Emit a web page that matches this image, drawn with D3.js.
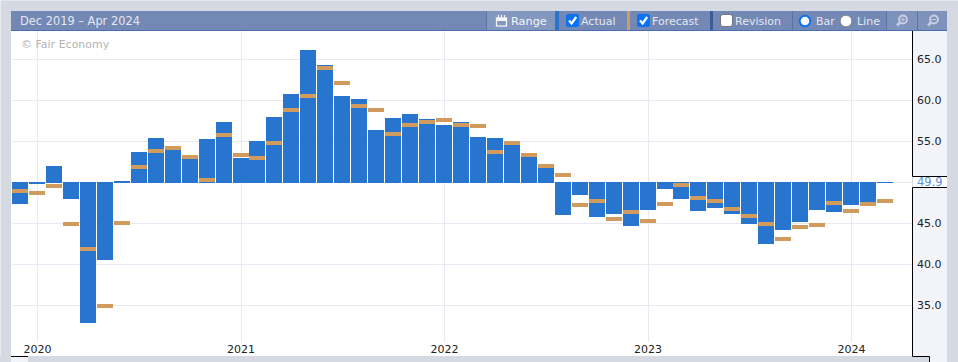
<!DOCTYPE html>
<html>
<head>
<meta charset="utf-8">
<script src="https://cdn.jsdelivr.net/npm/d3@7/dist/d3.min.js"></script>
<style>
html,body{margin:0;padding:0;background:#d5d9e2;overflow:hidden}
svg{display:block}
text{font-family:"DejaVu Sans",Verdana,sans-serif;font-size:11px}
</style>
</head>
<body>
<svg id="c" width="958" height="362"></svg>
<script>
const months = d3.timeMonth.range(new Date(2019, 11, 1), new Date(2024, 4, 1)).map(d3.timeFormat("%Y-%m"));
const actual = [47.35,49.8,52.0,48.0,32.85,40.5,50.15,53.7,55.4,54.0,53.0,55.3,57.4,53.0,55.0,58.0,60.8,66.1,64.3,60.5,60.15,56.4,57.85,58.3,57.7,57.0,57.35,55.5,55.4,54.55,53.1,51.75,46.0,48.45,45.8,46.15,44.7,46.6,49.2,48.0,46.5,46.85,46.15,44.9,42.5,44.2,45.15,46.6,46.4,47.25,47.2,49.9];
const forecast = [48.9,48.7,49.55,44.9,41.9,34.9,45.05,51.9,53.8,54.2,53.1,50.3,55.8,53.35,53.0,54.8,58.8,60.5,63.95,62.1,59.3,58.8,55.9,57.0,57.35,57.6,57.0,56.85,53.7,54.8,53.35,52.0,50.9,47.2,47.7,45.55,46.4,45.3,47.35,49.65,48.1,47.7,46.75,45.9,44.9,43.1,44.55,44.8,47.5,46.5,47.35,47.7];
const yTicks = [65,60,55,45,40,35];
const yearTicks = ["2020-01","2021-01","2022-01","2023-01","2024-01"];
const latestValue = 49.9;
const headerTitle = "Dec 2019 – Apr 2024";
const watermark = "© Fair Economy";

const C = {bg:"#d5d9e2", head:"#7388b4", headLight:"#8497bf", sep:"#5674a8", headText:"#e3e7f0", grid:"#e8e9f2",
  bar:"#2875cf", fc:"#d29b5e", panel:"#f2f4fa", ink:"#222", check:"#0b72f0"};

const svg = d3.select("#c");
const box = (x,y,w,h,fill,p=svg)=>p.append("rect").attr("x",x).attr("y",y).attr("width",w).attr("height",h).attr("fill",fill);

const x = d3.scaleBand().domain(months).range([12.06, 12.06 + months.length*16.96]);
const cx = m => x(m) + x.bandwidth()/2;
const y = d3.scaleLinear().domain([65,35]).range([59.3,305.3]);
const snap = v => Math.floor(v)+0.5;

// frame
box(0,0,958,362,C.bg);
box(0,0,958,1,"#e4e6ec");
box(0,0,1,362,"#e8eaef");
box(11,31,901,325,"#fff");
box(913,31,34,331,C.panel);

// grid
const grid = svg.append("g").attr("stroke",C.grid).attr("stroke-width",1);
grid.selectAll("line.h").data(yTicks).join("line").attr("x1",12).attr("x2",912)
  .attr("y1",d=>snap(y(d))).attr("y2",d=>snap(y(d)));
grid.selectAll("line.v").data(yearTicks).join("line").attr("class","v")
  .attr("x1",d=>snap(cx(d))).attr("x2",d=>snap(cx(d))).attr("y1",31).attr("y2",342);
grid.append("line").attr("x1",12).attr("x2",912).attr("y1",182.5).attr("y2",182.5);

svg.append("text").attr("x",21).attr("y",48).attr("fill","#b4b4b4").text(watermark);

// bars
const topY = Math.round(y(50)), botY = Math.round(y(49.9));
svg.append("g").selectAll("rect").data(actual).join("rect")
  .attr("x",(d,i)=>Math.floor(cx(months[i])-8))
  .attr("width",16)
  .attr("y",d=>d>=50?Math.round(y(d)):topY)
  .attr("height",d=>d>=50?botY-Math.round(y(d)):Math.max(1,Math.round(y(d))-topY))
  .attr("fill",C.bar);
svg.append("g").selectAll("rect").data(forecast).join("rect")
  .attr("x",(d,i)=>Math.floor(cx(months[i])-8))
  .attr("width",16)
  .attr("y",d=>Math.round(y(d))-2)
  .attr("height",4)
  .attr("fill",C.fc);

// x axis
const xAxis = d3.axisBottom(x).tickValues(yearTicks).tickFormat(d=>d.slice(0,4)).tickSize(0).tickPadding(0);
const gx = svg.append("g").attr("transform","translate(0,340)").call(xAxis);
gx.select(".domain").remove();
gx.selectAll("text").attr("fill",C.ink).attr("dy",0).attr("y",13).style("font-size","11px").style("font-family",'"DejaVu Sans"');

// y axis
const yAxis = d3.axisRight(y).tickValues(yTicks).tickFormat(d3.format(".1f")).tickSize(0).tickPadding(0);
const gy = svg.append("g").attr("transform","translate(917,-1)").call(yAxis);
gy.select(".domain").remove();
gy.selectAll("text").attr("fill",C.ink).attr("dy","0.36em").style("font-size","11px").style("font-family",'"DejaVu Sans"');

// axis frame
const ink = "#000";
const frame = svg.append("g").attr("fill","none").attr("stroke",ink).attr("stroke-width",1);
frame.append("path").attr("d","M912.5,31V176.5H947M947,187.5H912.5V356.5H929.5V362");
box(913,177,34,10,"#fff");
svg.append("text").attr("x",917).attr("y",y(latestValue)+3).attr("fill","#5b92da").style("font-size","11.5px").text(latestValue.toFixed(1));

// bottom slider
box(28,357,884,5,C.bg);
box(913,357,16,5,C.bg);
box(0,356,11,6,C.bg);
box(11,357,17,5,C.panel);
box(28,356,884,1,C.bg);
frame.append("path").attr("d","M11,356.5H28.5V362");

// header
box(11,11,936,19,C.head);
box(11,30,936,1,"#4a6fae");
box(487,11,68,19,C.headLight);
box(887,11,60,19,"#7e92bb");
[486.5,792.5,886.5,917.5].forEach(v=>svg.append("line").attr("x1",v).attr("x2",v).attr("y1",11).attr("y2",30).attr("stroke",C.sep));
box(555,11,4,19,C.bar);
box(627,11,3,19,C.fc);
box(710,11,3,19,"#3d5c96");

const htxt = (t,xp,size=11,col=C.headText)=>svg.append("text").attr("x",xp).attr("y",25).attr("fill",col).style("font-size",size+"px").text(t);
htxt(headerTitle,20,11.4);
htxt("Range",511,11.3,"#f2f4f9");
htxt("Actual",581);
htxt("Forecast",652);
htxt("Revision",735);
htxt("Bar",816);
htxt("Line",857);

// calendar icon
const cal = svg.append("g").attr("transform","translate(496,15)");
cal.append("rect").attr("x",0.5).attr("y",3).attr("width",10).attr("height",8).attr("fill","none").attr("stroke","#f2f4f9").attr("stroke-width",1.3);
cal.append("rect").attr("x",0).attr("y",3).attr("width",11).attr("height",3).attr("fill","#f2f4f9");
cal.append("path").attr("d","M2.5,0V3M5.5,0V3M8.5,0V3").attr("stroke","#f2f4f9").attr("stroke-width",1.2);

// checkboxes
const check = xp=>{
  svg.append("rect").attr("x",xp).attr("y",14).attr("width",13).attr("height",13).attr("rx",2.5).attr("fill",C.check);
  svg.append("path").attr("d",`M${xp+3},${20.5}l2.6,3l4.6,-6.5`).attr("fill","none").attr("stroke","#fff").attr("stroke-width",2.2);
};
check(566); check(637);
svg.append("rect").attr("x",720.5).attr("y",14.5).attr("width",12).attr("height",12).attr("rx",2.5).attr("fill","#fff").attr("stroke","#767676");

// radios
svg.append("circle").attr("cx",805).attr("cy",21).attr("r",5.3).attr("fill","#fff").attr("stroke",C.check).attr("stroke-width",2);
svg.append("circle").attr("cx",846).attr("cy",21).attr("r",5.8).attr("fill","#fff").attr("stroke","#8a8a8a").attr("stroke-width",1);

// zoom icons
const mag = (xp,plus)=>{
  const g = svg.append("g").attr("transform",`translate(${xp},21)`).attr("stroke","#c6cfe1").attr("fill","none");
  g.append("circle").attr("cx",1).attr("cy",-1.5).attr("r",3.9).attr("stroke-width",2);
  g.append("path").attr("d","M-2,1.5L-5,4.5").attr("stroke-width",2.6);
  g.append("path").attr("d",plus?"M-1,-1.5H3M1,-3.5V0.5":"M-1,-1.5H3").attr("stroke-width",1);
};
mag(902,true);
mag(933,false);
</script>
</body>
</html>
